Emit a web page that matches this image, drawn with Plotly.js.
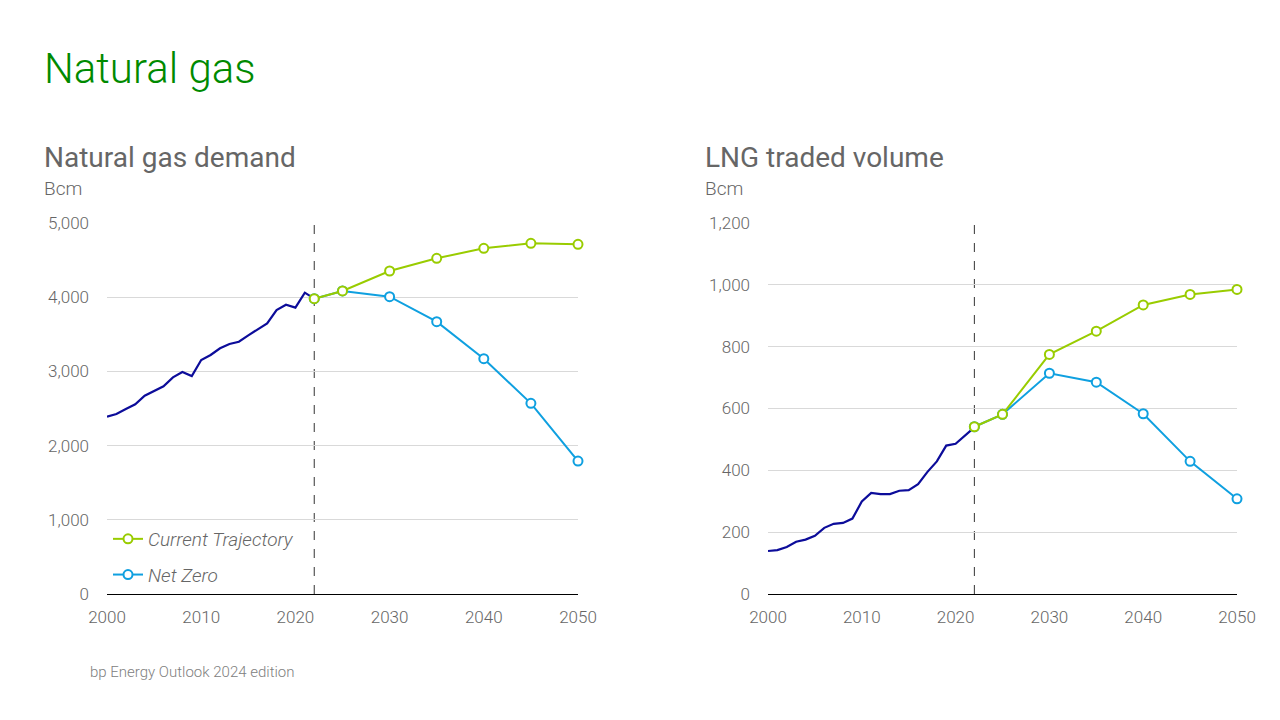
<!DOCTYPE html>
<html>
<head>
<meta charset="utf-8">
<script src="https://cdn.plot.ly/plotly-3.0.1.min.js"></script>
<style>html,body{margin:0;padding:0;background:#fff;}#chart{width:1280px;height:720px;}</style>
</head>
<body>
<div id="chart"></div>
<script>
// ---- Natural gas demand (Bcm) ----
const histYears = [2000,2001,2002,2003,2004,2005,2006,2007,2008,2009,2010,2011,2012,2013,2014,2015,2016,2017,2018,2019,2020,2021,2022];
const demandHist = [2390,2426,2493,2556,2673,2740,2799,2920,2992,2938,3154,3221,3311,3369,3400,3486,3567,3648,3827,3899,3859,4061,3980];
const projYears = [2022,2025,2030,2035,2040,2045,2050];
const demandCT = [3980,4084,4353,4524,4659,4726,4713];
const demandNZ = [3980,4084,4007,3670,3171,2570,1792];

// ---- LNG traded volume (Bcm) ----
const lngHist = [139,142,152,169,176,188,214,227,230,244,299,327,323,323,334,336,355,395,429,480,486,513,539];
const lngCT = [541,581,775,850,935,969,985];
const lngNZ = [541,581,714,685,583,429,308];

const seriesNames = ["Current Trajectory","Net Zero"];
const baseYear = 2022;

const cHist = "#0c0c9a", cCT = "#99cc00", cNZ = "#0fa0e0";
const FONT = "Roboto, 'Liberation Sans', Arial, sans-serif";

function proj(x, y, color, name, xa, ya, show, grp, rank){
  return {x:x, y:y, type:"scatter", mode:"lines+markers", name:name,
    xaxis:xa, yaxis:ya, showlegend:show, legendgroup:grp, legendrank:rank, cliponaxis:false,
    line:{color:color, width:2},
    marker:{symbol:"circle", size:9, color:"#ffffff", line:{color:color, width:2}},
    hoverinfo:"x+y"};
}
function hist(x, y, xa, ya){
  return {x:x, y:y, type:"scatter", mode:"lines", xaxis:xa, yaxis:ya,
    showlegend:false, line:{color:cHist, width:2.2}, hoverinfo:"x+y"};
}

const data = [
  hist(histYears, demandHist, "x", "y"),
  proj(projYears, demandNZ, cNZ, seriesNames[1], "x", "y", true, "nz", 2),
  proj(projYears, demandCT, cCT, seriesNames[0], "x", "y", true, "ct", 1),
  hist(histYears, lngHist, "x2", "y2"),
  proj(projYears, lngNZ, cNZ, seriesNames[1], "x2", "y2", false, "nz", 2),
  proj(projYears, lngCT, cCT, seriesNames[0], "x2", "y2", false, "ct", 1)
];

const tickFont = {family:FONT, size:17, color:"#666666", weight:300};
function xax(domain, anchor){
  return {domain:domain, anchor:anchor, range:[2000,2050], dtick:10, tick0:2000,
    showgrid:false, zeroline:false, showline:true, linecolor:"#000000", linewidth:1,
    ticks:"", tickfont:tickFont, ticklabelstandoff:8, fixedrange:true};
}
function yax(domain, anchor, range, dtick){
  return {domain:domain, anchor:anchor, range:range, dtick:dtick, tickformat:",",
    showgrid:true, gridcolor:"#d9d9d9", gridwidth:1, zeroline:false, showline:false,
    ticks:"", tickfont:tickFont, ticklabelstandoff:17, fixedrange:true};
}

const yd = [1-594/720, 1-223/720];
const layout = {
  width:1280, height:720, margin:{l:0,r:0,t:0,b:0},
  paper_bgcolor:"#ffffff", plot_bgcolor:"#ffffff",
  font:{family:FONT, color:"#666666"},
  xaxis: xax([107/1280, 578/1280], "y"),
  yaxis: yax(yd, "x", [0,5000], 1000),
  xaxis2: xax([768/1280, 1237/1280], "y2"),
  yaxis2: yax(yd, "x2", [0,1200], 200),
  showlegend:true,
  legend:{x:108/1280, y:1-520/720, xanchor:"left", yanchor:"top",
    bgcolor:"rgba(0,0,0,0)", traceorder:"grouped", tracegroupgap:8,
    font:{family:FONT, size:19, color:"#666666", style:"italic", weight:300}},
  shapes:[
    {type:"line", xref:"x", yref:"y domain", x0:baseYear, x1:baseYear, y0:0, y1:1,
     line:{color:"#333333", width:1, dash:"dash"}, layer:"below"},
    {type:"line", xref:"x2", yref:"y2 domain", x0:baseYear, x1:baseYear, y0:0, y1:1,
     line:{color:"#333333", width:1, dash:"dash"}, layer:"below"}
  ],
  annotations:[
    {text:"Natural gas", xref:"paper", yref:"paper", x:42/1280, y:1-68/720, xanchor:"left", yanchor:"middle",
     showarrow:false, font:{family:FONT, size:42, color:"#008a00", weight:300}},
    {text:"Natural gas demand", xref:"paper", yref:"paper", x:42/1280, y:1-157/720, xanchor:"left", yanchor:"middle",
     showarrow:false, font:{family:FONT, size:28, color:"#666666"}},
    {text:"Bcm", xref:"paper", yref:"paper", x:42/1280, y:1-189/720, xanchor:"left", yanchor:"middle",
     showarrow:false, font:{family:FONT, size:19, color:"#666666", weight:300}},
    {text:"LNG traded volume", xref:"paper", yref:"paper", x:703/1280, y:1-157/720, xanchor:"left", yanchor:"middle",
     showarrow:false, font:{family:FONT, size:28, color:"#666666"}},
    {text:"Bcm", xref:"paper", yref:"paper", x:703/1280, y:1-189/720, xanchor:"left", yanchor:"middle",
     showarrow:false, font:{family:FONT, size:19, color:"#666666", weight:300}},
    {text:"bp Energy Outlook 2024 edition", xref:"paper", yref:"paper", x:88/1280, y:1-672/720, xanchor:"left", yanchor:"middle",
     showarrow:false, font:{family:FONT, size:15, color:"#808080", weight:300}}
  ]
};

Plotly.newPlot("chart", data, layout, {displayModeBar:false});
</script>
</body>
</html>
